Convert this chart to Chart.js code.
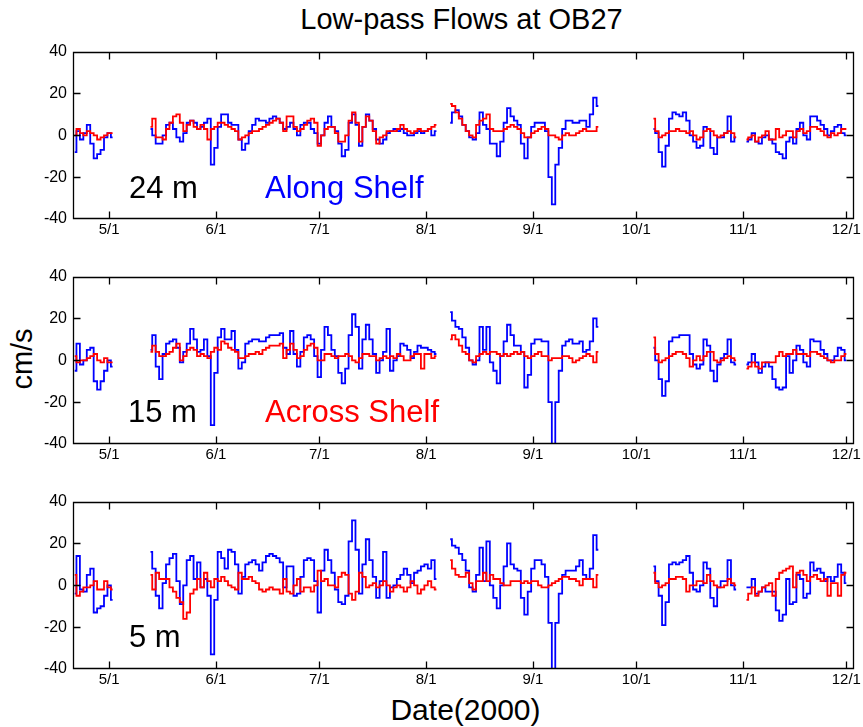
<!DOCTYPE html>
<html>
<head>
<meta charset="utf-8">
<script src="https://cdn.jsdelivr.net/npm/chart.js@4.4.1/dist/chart.umd.min.js"></script>
<style>
  body { margin: 0; background: #fff; }
  #page { position: relative; width: 863px; height: 727px; overflow: hidden; background: #fff;
          font-family: "Liberation Sans", Arial, sans-serif; color: #000; }
  canvas { position: absolute; left: 0; }
  .txt { position: absolute; line-height: 1; white-space: nowrap; }
</style>
</head>
<body>
<div id="page">
  <div class="txt" style="left:461.5px; top:5px; font-size:29px; transform:translateX(-50%)">Low-pass Flows at OB27</div>
  <div class="txt" style="left:22px; top:359px; font-size:29px; transform:translate(-50%,-50%) rotate(-90deg)">cm/s</div>
  <div class="txt" style="left:465.5px; top:694.5px; font-size:30px; transform:translateX(-50%)">Date(2000)</div>

  <canvas id="p0" width="863" height="213" style="top:36px"></canvas>
  <canvas id="p1" width="863" height="213" style="top:261px"></canvas>
  <canvas id="p2" width="863" height="213" style="top:486px"></canvas>

  <div class="txt" style="left:129px; top:171.5px; font-size:31px">24 m</div>
  <div class="txt" style="left:265px; top:171.5px; font-size:31px; color:#0000ff">Along Shelf</div>
  <div class="txt" style="left:128px; top:395.5px; font-size:31px">15 m</div>
  <div class="txt" style="left:265px; top:395.5px; font-size:31px; color:#ff0000">Across Shelf</div>
  <div class="txt" style="left:129px; top:620.5px; font-size:31px">5 m</div>
</div>

<script>
// day of year (2000) where each record segment starts; gaps between them
var segStarts = [112, 134, 221, 280, 307];

// x axis ticks: first of each month
var tickDays = [122, 153, 183, 214, 245, 275, 306, 336];
var tickLabels = ["5/1", "6/1", "7/1", "8/1", "9/1", "10/1", "11/1", "12/1"];

// 24 m depth (cm/s), one value per day, per segment
var along24 = [
  [-8, 2, -2, 1, 5, -4, -11, -9, -7, -1, 1, -1],
  [3, 0, -4, -4, 0, 5, 6, 3, -1, -3, 1, 6, 7, 6, 3, 4, 6, 8, -14, -6, 4, 10, 10, 6, 5, 5, -2, -7, -4, 2, 5, 8, 7, 7, 6, 8, 9, 8, 6, 3, 4, 6, 3, 0,
   5, 6, 6, 3, 1, -4, 0, 6, 9, 4, 2, -4, -10, -7, 6, 10, 5, -5, 4, 10, 7, 3, -2, -4, -2, 1, 2, 3, 2, 3, 1, 0, 0, 1, 2, 1, 2, 3, 0, 2],
  [6, 11, 12, 9, 5, 2, -1, -2, 1, 11, 5, 3, -4, -4, -10, -3, 6, 13, 9, 7, 5, -4, -11, -1, 4, 6, 6, 6, 2, -20, -33, -14, -6, 3, 7, 7, 6, 6, 7, 7, 4, 10, 18, 14],
  [3, 1, -8, -15, -5, 8, 11, 10, 9, 11, 7, 0, -3, -6, -5, 4, 3, -6, -9, -1, -1, 1, 9, -3, -1],
  [-3, -2, 1, -3, -4, -1, 0, -2, -4, -8, -9, -11, -3, -1, -4, 3, 6, 0, -2, 9, 9, 7, 5, 3, 0, 2, 4, 5, 1, 0]
];
var across24 = [
  [0, 3, 1, 0, 2, 1, 0, -2, -1, 0, 1, 1],
  [4, 8, -1, -1, -2, 3, 6, 9, 10, 6, 2, 5, 7, 4, 3, 5, 3, -2, 3, 4, 6, 6, 5, 4, 3, 2, -2, -1, 0, 1, 2, 2, 3, 4, 5, 6, 7, 8, 6, 2, 9, 9, 4, 2,
   3, 5, 7, 8, 6, -5, 0, 3, 4, 4, 1, -3, -3, 0, 7, 11, 6, -3, 4, 9, 7, 2, -4, -1, 0, 2, 2, 2, 3, 5, 3, 2, 1, 2, 3, 2, 2, 3, 4, 5],
  [15, 14, 11, 8, 5, 2, 0, -1, 5, 7, 8, 10, 3, 2, 2, 2, 3, 4, 5, 4, 3, 1, -1, -1, 1, 2, 3, 4, 3, 0, 0, -1, -2, 0, 1, 0, 0, 1, 2, 3, 2, 2, 2, 4],
  [8, 2, -1, 0, 1, 2, 2, 3, 2, 2, 1, 2, 0, -2, -1, 2, 3, 2, 0, -1, 0, 1, 2, 1, -1],
  [-2, -1, 0, -3, -1, 0, 2, -2, -2, 3, -1, 0, 2, 2, -1, 2, 3, 1, 2, 4, 4, 3, 2, 0, -1, 1, 0, 1, 3, 3]
];

// 15 m depth
var along15 = [
  [-5, 8, -2, 0, 5, 6, -10, -14, -10, -5, 0, -3],
  [5, 12, -3, -9, 3, 8, 9, 10, 6, -1, 4, 8, 15, 10, 4, 5, 10, 2, -31, -6, 11, 15, 10, 10, 14, 5, -4, -1, 8, 9, 10, 10, 9, 9, 11, 12, 12, 12, 13, 6, 3, 14, 3, -3,
   4, 11, 12, 10, 2, -8, 5, 16, 12, 5, 2, -6, -11, -4, 12, 22, 16, -4, 10, 17, 10, 3, -6, 0, 4, 15, -5, 0, 2, 8, 7, 5, 1, 4, 7, 6, 6, 5, 4, 3],
  [23, 19, 16, 15, 11, 6, 0, -2, 0, 16, 5, 16, -1, -5, -11, 2, 9, 17, 12, 7, 7, 4, -13, -7, 8, 10, 10, 9, 9, -20, -44, -20, -5, 7, 9, 10, 8, 8, 9, 4, 5, 9, 20, 16],
  [6, 0, -9, -17, -10, 9, 11, 11, 12, 12, 12, 3, -2, -4, -2, 10, 7, -5, -10, -2, 1, 3, 10, -1, -2],
  [-2, -1, 3, -1, -6, -3, -1, -3, -9, -13, -14, -13, 2, -6, 0, 7, 5, -1, -3, 10, 9, 9, 5, 3, 0, 0, 2, 6, 5, 0]
];
var across15 = [
  [2, -1, 0, 0, 1, 2, 3, 0, -1, 1, -1, -1],
  [4, 7, 4, 2, 2, 3, 4, 6, 8, 0, 2, 5, 6, 5, 2, 3, 2, 1, 4, 6, 5, 9, 8, 6, 5, 4, 1, 1, 2, 3, 3, 4, 3, 5, 6, 7, 7, 7, 8, 1, 5, 8, 5, 1,
   2, 5, 7, 8, 6, 0, 0, 3, 3, 2, 1, 2, 2, 3, 2, 0, -1, 1, 3, 3, 2, 2, 0, 1, 2, 1, 2, 1, 3, 2, 0, 0, 2, 3, 3, -4, 3, 3, 1, 2],
  [10, 12, 10, 7, 4, 3, 0, -1, 2, 3, 4, 3, 4, 4, 3, 2, 3, 2, 3, 4, 3, 4, 2, 1, 2, 3, 4, 2, 2, 0, 1, 1, 1, 2, 2, 1, -1, 0, 1, 2, 3, 2, -1, 4],
  [11, 3, -1, 0, 1, 2, 3, 4, 4, 3, 1, -3, 0, 2, 0, 2, 4, 4, 0, -1, 0, 1, 2, 1, 0],
  [-4, -3, -1, -3, -4, -1, -1, -1, -1, 2, 4, 2, 3, 3, 5, 3, 3, 3, 2, 4, 4, 3, 2, 1, 0, -1, 0, 0, 2, 3]
];

// 5 m depth
var along5 = [
  [-4, 14, -2, -3, 5, 8, -13, -11, -10, -5, 0, -7],
  [16, 8, -5, -11, 1, 10, 13, 15, 2, -9, 0, 12, 14, 3, 11, -1, 3, -5, -33, -7, 16, 13, 8, 17, 16, 10, -4, 4, 10, 11, 12, 10, 7, 11, 14, 15, 14, 13, 11, -1, 9, 9, -5, -4,
   4, 12, 13, 12, 2, -13, 7, 17, 12, 6, -2, -8, -9, -5, 21, 31, 17, -4, 10, 22, 12, 4, -6, 2, 16, -6, -1, 0, 3, 5, 8, 5, 1, 6, 7, 9, 10, 8, 12, 3],
  [22, 19, 18, 15, 12, 7, -1, -3, 5, 18, 2, 21, 0, -6, -11, 0, 9, 20, 10, 8, 7, -6, -14, -3, 8, 12, 12, 10, 4, -18, -42, -18, -4, 5, 7, 7, 7, 9, 12, 5, 3, 8, 24, 17],
  [9, 2, -5, -19, -8, 10, 11, 10, 11, 12, 14, 6, -2, -3, 0, 11, 8, -6, -10, -1, 2, 2, 12, 0, -2],
  [-1, -1, 3, -4, -3, -1, -3, -3, -3, -12, -17, -14, 3, -9, -8, 5, 3, -6, -4, 11, 7, 8, 6, 2, 4, 2, 4, 10, 6, 1]
];
var across5 = [
  [5, -5, -3, -1, -1, 0, 2, -2, -2, 2, -1, -2],
  [5, -2, 6, 3, 3, 3, -1, -3, -6, -8, -16, -13, -4, -2, 3, -1, 6, 2, -1, 3, 2, 4, 2, 0, -1, -2, 6, 3, 3, 4, 2, 1, -2, -3, -2, -1, -2, -2, -4, 3, -3, -4, 0, 3,
   -3, -1, -1, -3, 0, 7, 2, 3, 0, 0, -1, 4, 6, 5, -4, -7, -3, 6, 4, -1, 0, 1, -1, 0, 2, 0, -3, -1, 0, -1, -3, -1, 2, 0, -4, -2, 0, 2, -1, -2],
  [12, 8, 5, 4, 4, 6, 1, -2, 2, 2, 6, 2, 5, 3, 3, 1, 0, 0, 2, 2, 2, 1, 2, 1, 2, 2, 0, -1, -1, 0, 1, 2, 3, 4, 4, 3, 3, 2, 0, 3, 3, 3, -1, 5],
  [6, 1, -1, 0, 1, 3, 3, 4, 4, 3, -3, 0, 0, 2, 2, 1, 5, 2, 0, -1, -1, 0, 3, 1, 0],
  [-7, -4, -1, -5, -3, -1, 0, 1, -5, 3, 6, 7, 8, 9, -1, 6, 7, 5, 2, 4, 5, 3, 2, 3, -5, 1, 1, -5, 5, 6]
];

// turn segments into {x, y} points, with a null after each to break the line
function toPoints(segs) {
    var pts = [];
    segs.forEach(function (seg, k) {
        seg.forEach(function (v, i) { pts.push({ x: segStarts[k] + i, y: v }); });
        pts.push({ x: segStarts[k] + seg.length, y: null });
    });
    return pts;
}

// matlab style box with inward ticks on all four sides
var boxTicks = {
    id: "boxTicks",
    afterDatasetsDraw: function (chart) {
        var ctx = chart.ctx, a = chart.chartArea, xs = chart.scales.x, ys = chart.scales.y;
        var L = Math.round(a.left) + 0.5, R = Math.round(a.right) - 0.5;
        var T = Math.round(a.top) + 0.5, B = Math.round(a.bottom) - 0.5;
        ctx.save();
        ctx.strokeStyle = "#000";
        ctx.lineWidth = 1.3;
        ctx.beginPath();
        ctx.rect(L, T, R - L, B - T);
        tickDays.forEach(function (d) {
            var px = Math.round(xs.getPixelForValue(d)) + 0.5;
            ctx.moveTo(px, B); ctx.lineTo(px, B - 7);
            ctx.moveTo(px, T); ctx.lineTo(px, T + 7);
        });
        [-20, 0, 20].forEach(function (v) {
            var py = Math.round(ys.getPixelForValue(v)) + 0.5;
            ctx.moveTo(L, py); ctx.lineTo(L + 7, py);
            ctx.moveTo(R, py); ctx.lineTo(R - 7, py);
        });
        ctx.stroke();
        ctx.restore();
    }
};

var panels = [
    { id: "p0", along: along24, across: across24 },
    { id: "p1", along: along15, across: across15 },
    { id: "p2", along: along5, across: across5 }
];

panels.forEach(function (p) {
    new Chart(document.getElementById(p.id), {
        type: "line",
        data: {
            datasets: [
                { data: toPoints(p.across), borderColor: "#ff0000", borderWidth: 1.8, stepped: "middle", order: 1 },
                { data: toPoints(p.along), borderColor: "#0000ff", borderWidth: 1.8, stepped: "middle", order: 2 }
            ]
        },
        options: {
            responsive: false,
            animation: false,
            spanGaps: false,
            elements: { point: { radius: 0 }, line: { tension: 0 } },
            layout: { autoPadding: false, padding: { top: 12, right: 5, bottom: 0, left: 0 } },
            plugins: { legend: { display: false }, tooltip: { enabled: false } },
            scales: {
                x: {
                    type: "linear",
                    min: 111.5,
                    max: 338.1,
                    grid: { display: false, drawTicks: false },
                    border: { display: false },
                    afterBuildTicks: function (s) { s.ticks = tickDays.map(function (d) { return { value: d }; }); },
                    afterFit: function (s) { s.height = 30; },
                    ticks: {
                        autoSkip: false,
                        maxRotation: 0,
                        padding: 2,
                        color: "#000",
                        font: { family: "Liberation Sans", size: 15 },
                        callback: function (v, i) { return tickLabels[i]; }
                    }
                },
                y: {
                    min: -40,
                    max: 40,
                    grid: { display: false, drawTicks: false },
                    border: { display: false },
                    afterFit: function (s) { s.width = 73; },
                    ticks: {
                        stepSize: 20,
                        padding: 6,
                        color: "#000",
                        font: { family: "Liberation Sans", size: 16 }
                    }
                }
            }
        },
        plugins: [boxTicks]
    });
});
</script>
</body>
</html>
